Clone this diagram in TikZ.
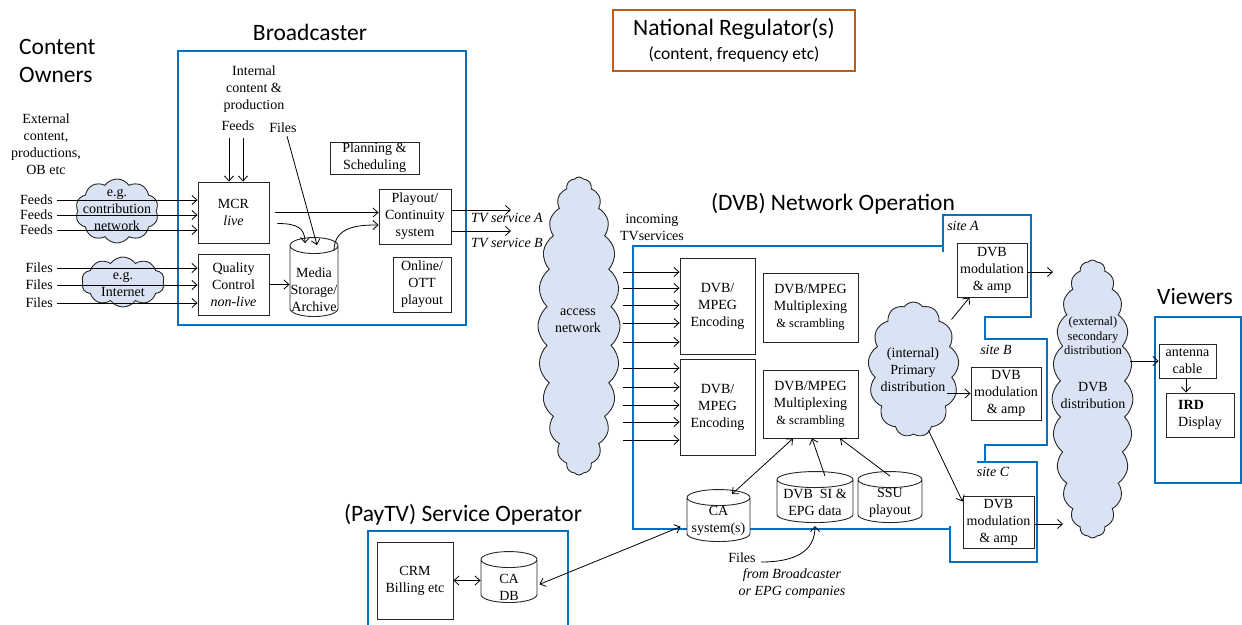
\documentclass[tikz,border=0pt]{standalone}
\usepackage{fontspec}
\setmainfont{Liberation Serif}
\newfontfamily\headfont{Carlito}
\usetikzlibrary{shapes,shapes.geometric,shapes.symbols,arrows.meta,positioning}

\definecolor{regblue}{RGB}{0,112,192}
\definecolor{regorange}{RGB}{197,90,17}
\definecolor{cloudfill}{RGB}{218,227,243}

\begin{document}
\begin{tikzpicture}[
    x=1pt, y=-1pt,
    every node/.style={font=\fontsize{14}{17}\selectfont, inner sep=0pt, align=center},
    block/.style={rectangle, draw=black!85, line width=0.9pt, fill=white},
    store/.style={cylinder, shape border rotate=90, draw=black!85, line width=0.9pt, fill=white, aspect=0.8, inner sep=10pt, anchor=south},
    netcloud/.style={cloud, cloud puffs=10, cloud puff arc=110, cloud ignores aspect, draw=black!85, line width=0.9pt, fill=cloudfill},
    heading/.style={font=\headfont\fontsize{23.5}{28}\selectfont},
    region/.style={draw=regblue, line width=1.6pt},
    arrow/.style={-{Straight Barb[length=5pt,width=9pt]}, line width=0.8pt},
    dblarrow/.style={{Straight Barb[length=5pt,width=9pt]}-{Straight Barb[length=5pt,width=9pt]}, line width=0.8pt},
    note/.style={font=\fontsize{14}{17}\selectfont\itshape}
]
\useasboundingbox (0,0) rectangle (1242,624);

% Regions
\draw[region] (178,51) rectangle (466,325);
\draw[region] (943,246) -- (633,246) -- (633,529) -- (950,529);
\draw[region] (943,252) -- (943,215) -- (1031,215) -- (1031,317) -- (985,317) -- (985,339)
    -- (1047,339) -- (1047,445) -- (985,445) -- (985,462)
    (977,462) -- (1037,462) -- (1037,562) -- (950,562) -- (950,526);
\draw[region] (1155,317) rectangle (1241,483);
\draw[region] (368,626) -- (368,531) -- (568,531) -- (568,626);

% Headings
\node[heading, anchor=west, align=left] (owners) at (19,61) {Content\\Owners};
\node[heading] (bcast) at (310,32) {Broadcaster};
\node[heading] (dvbop) at (833,204) {(DVB) Network Operation};
\node[heading] (viewers) at (1195,296) {Viewers};
\node[heading] (paytv) at (463,515) {(PayTV) Service Operator};
\node[draw=regorange, line width=1.6pt, minimum width=242pt, minimum height=61pt,
    font=\headfont\fontsize{23.5}{24}\selectfont] (regulator) at (734,40.5)
    {National Regulator(s)\\{\fontsize{17.5}{22}\selectfont(content, frequency etc)}};

% Content owners
\node (external) at (46,144) {External\\content,\\productions,\\OB etc};
\node[netcloud, minimum width=83pt, minimum height=64pt] (contrib) at (117,211) {};
\node[netcloud, minimum width=83pt, minimum height=50pt] (inet) at (123,282) {};
\foreach \yy/\nm in {200/feedsA, 215/feedsB, 230/feedsC}
    \node[anchor=east] (\nm) at (53,\yy) {Feeds};
\foreach \yy/\nm in {268/filesA, 285/filesB, 303/filesC}
    \node[anchor=east] (\nm) at (53,\yy) {Files};

% Broadcaster
\node (internal) at (254,89) {Internal\\content \&\\production};
\node (feedsint) at (238,126) {Feeds};
\node (filesint) at (283,128) {Files};
\node[block, minimum width=71pt, minimum height=61pt] (mcr) at (233.5,212.5) {MCR\\\textit{live}};
\node[block, minimum width=71pt, minimum height=61pt] (qc) at (233.5,284.5) {Quality\\Control\\\textit{non-live}};
\node[store, minimum width=48pt, minimum height=79pt] (storage) at (314,317) {};
\node (storagetxt) at (314,290) {Media\\Storage/\\Archive};
\node[block, minimum width=89pt, minimum height=32pt] (planning) at (374.5,158) {Planning \&\\Scheduling};
\node[block, minimum width=72pt, minimum height=55pt] (playout) at (415,216.5) {Playout/\\Continuity\\system};
\node[block, minimum width=58pt, minimum height=55pt] (online) at (422,284.5) {Online/\\OTT\\playout};

\foreach \nm in {feedsA,feedsB,feedsC}
    \draw[arrow] ([xshift=4pt]\nm.east) -- (mcr.west |- \nm.east);
\foreach \nm in {filesA,filesB,filesC}
    \draw[arrow] ([xshift=4pt]\nm.east) -- (qc.west |- \nm.east);
\node (contribtxt) at (117,209.5) {e.g.\\contribution\\network};
\node (inettxt) at (123,284) {e.g.\\Internet};

\draw[arrow] ([xshift=-9pt,yshift=-7pt]feedsint.south) -- ([xshift=-9pt]feedsint.south |- mcr.north);
\draw[arrow] ([xshift=5pt,yshift=-7pt]feedsint.south) -- ([xshift=5pt]feedsint.south |- mcr.north);
\draw[arrow] ([xshift=4pt,yshift=-3pt]filesint.south) -- ([xshift=3pt,yshift=-8pt]storage.north);
\draw[arrow] ([xshift=6pt]mcr.east) -- (mcr.east -| playout.west);
\draw[arrow] ([xshift=8pt,yshift=-11pt]mcr.east) .. controls +(20,0) and +(0,-15) .. ([xshift=-9pt,yshift=-6pt]storage.north);
\draw[arrow] ([xshift=20pt,yshift=-14pt]storage.north) .. controls +(0,-25) and +(-20,0) .. ([yshift=-8.5pt]playout.west);
\draw[arrow] (qc.east) -- (qc.east -| storage.west);

% TV services
\coordinate (tvA) at (511,210);
\coordinate (tvB) at (511,231);
\draw[arrow] (playout.east |- tvA) -- (tvA);
\draw[arrow] (playout.east |- tvB) -- (tvB);
\node[note] (tvAlabel) at (507,218) {TV service A};
\node[note] (tvBlabel) at (507,243) {TV service B};

% Access network
\node[netcloud, cloud puffs=24, cloud puff arc=100, minimum width=82pt, minimum height=298pt] (access) at (579,326) {};
\node (accesstxt) at (578,321) {access\\network};
\node (incoming) at (652,227) {incoming\\TVservices};

% Network operation
\node[block, minimum width=75pt, minimum height=96pt] (enc1) at (717.5,306) {DVB/\\MPEG\\Encoding};
\node[block, minimum width=75pt, minimum height=96pt] (enc2) at (717.5,407) {DVB/\\MPEG\\Encoding};
\foreach \yy in {272,288,305,323,342}
    \draw[arrow] ([xshift=3pt]access.east |- 0,\yy) -- (enc1.west |- 0,\yy);
\foreach \yy in {368,387,405,422,440}
    \draw[arrow] ([xshift=3pt]access.east |- 0,\yy) -- (enc2.west |- 0,\yy);
\node[block, minimum width=95pt, minimum height=69pt] (mux1) at (810.5,307.5) {DVB/MPEG\\Multiplexing\\{\fontsize{12.5}{15}\selectfont\& scrambling}};
\node[block, minimum width=95pt, minimum height=68pt] (mux2) at (810.5,404) {DVB/MPEG\\Multiplexing\\{\fontsize{12.5}{15}\selectfont\& scrambling}};

\node[store, minimum width=63pt, minimum height=52pt] (casys) at (718.5,542) {};
\node (casystxt) at (718.5,521) {CA\\system(s)};
\node[store, minimum width=76pt, minimum height=51pt] (sidata) at (815,523) {};
\node (sidatatxt) at (815,502.5) {DVB\enspace SI \&\\EPG data};
\node[store, minimum width=64pt, minimum height=51pt] (ssu) at (890,523) {};
\node (ssutxt) at (890,502.5) {SSU\\playout};
\draw[dblarrow] ([shift={(13.5,5)}]casys.north) -- ([xshift=-17.5pt]mux2.south);
\draw[arrow] ([shift={(10,5)}]sidata.north) -- ([xshift=1.5pt]mux2.south);
\draw[arrow] ([shift={(0,5)}]ssu.north) -- ([xshift=29.5pt]mux2.south);

\node (filesepg) at (742,558) {Files};
\node[note] (fromtxt) at (792,583.5) {from Broadcaster\\or EPG companies};
\draw[arrow] ([xshift=5pt,yshift=-4pt]filesepg.east) .. controls +(35,0) and +(0,25) .. ([yshift=-3pt]sidata.south);

% Distribution
\node[netcloud, cloud puffs=13, minimum width=91pt, minimum height=135pt] (primary) at (913.5,369.5) {};
\node (primarytxt) at (913,370) {(internal)\\Primary\\distribution};
\node[block, minimum width=70pt, minimum height=54pt] (modA) at (992,270) {DVB\\modulation\\\& amp};
\node[block, minimum width=70pt, minimum height=53pt] (modB) at (1006,393.5) {DVB\\modulation\\\& amp};
\node[block, minimum width=71pt, minimum height=52pt] (modC) at (998.5,522) {DVB\\modulation\\\& amp};
\node[note] (siteA) at (963,226) {site A};
\node[note] (siteB) at (996,350) {site B};
\node[note] (siteC) at (993,472) {site C};
\draw[arrow] ([shift={(38,-50)}]primary.center) -- ([xshift=13pt]modA.south west);
\draw[arrow] ([xshift=-11pt]primary.east |- modB.west) -- (modB.west);
\draw[arrow] ([shift={(15,61)}]primary.center) -- ([yshift=-6pt]modC.north west);

\node[netcloud, cloud puffs=24, cloud puff arc=100, minimum width=81pt, minimum height=278pt] (second) at (1092.5,399) {};
\node[font=\fontsize{12.5}{14.5}\selectfont] (secondtxt) at (1093,336) {(external)\\secondary\\distribution};
\node (dvbdisttxt) at (1093,395) {DVB\\distribution};
\coordinate (outA) at (1053,272);
\coordinate (outC) at (1063,524);
\draw[arrow] (modA.east |- outA) -- (outA);
\draw[arrow] (modC.east |- outC) -- (outC);

% Viewers
\node[block, minimum width=57pt, minimum height=34pt] (antenna) at (1187.5,361) {antenna\\cable};
\node[block, minimum width=68pt, minimum height=44pt, align=left] (ird) at (1200,415) {\textbf{IRD}\\Display};
\draw[arrow] ([xshift=-3pt]second.east |- antenna.west) -- (antenna.west);
\draw[arrow] ([xshift=-1.5pt]antenna.south) -- ([xshift=-1.5pt]antenna.south |- ird.north);

% PayTV service operator
\node[block, minimum width=76pt, minimum height=77pt] (crm) at (415,580.5) {CRM\\Billing etc};
\node[store, minimum width=56pt, minimum height=51pt] (cadb) at (509,603) {};
\node (cadbtxt) at (509,587) {CA\\DB};
\draw[dblarrow] (crm.east) -- (crm.east -| cadb.west);
\draw[dblarrow] ([xshift=2pt]cadb.east) -- ([shift={(-6,4)}]casys.west);

\end{tikzpicture}
\end{document}
